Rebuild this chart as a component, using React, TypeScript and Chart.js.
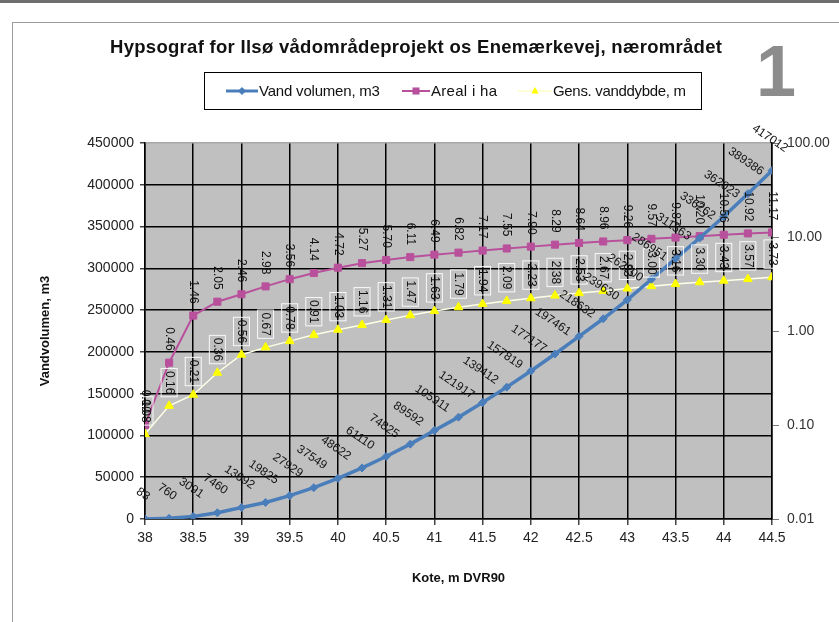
import React, { useEffect, useRef } from 'react';
import { Chart, registerables } from 'chart.js';
Chart.register(...registerables);

const kote = [38, 38.25, 38.5, 38.75, 39, 39.25, 39.5, 39.75, 40, 40.25, 40.5, 40.75, 41, 41.25, 41.5, 41.75, 42, 42.25, 42.5, 42.75, 43, 43.25, 43.5, 43.75, 44, 44.25, 44.5];
const volumen = [83, 760, 3091, 7460, 13692, 19825, 27929, 37549, 48622, 61110, 74825, 89592, 105911, 121917, 139412, 157819, 177177, 197461, 218632, 239630, 262200, 286951, 311563, 336262, 362023, 389386, 417012];
const areal = [0.10, 0.46, 1.46, 2.05, 2.46, 2.98, 3.56, 4.14, 4.72, 5.27, 5.70, 6.11, 6.49, 6.82, 7.17, 7.55, 7.90, 8.29, 8.64, 8.96, 9.26, 9.57, 9.87, 10.20, 10.56, 10.92, 11.17];
const dybde = [0.08, 0.16, 0.21, 0.36, 0.56, 0.67, 0.78, 0.91, 1.03, 1.16, 1.31, 1.47, 1.63, 1.79, 1.94, 2.09, 2.23, 2.38, 2.53, 2.67, 2.83, 3.00, 3.16, 3.30, 3.43, 3.57, 3.73];
const logTicks = [0.01, 0.1, 1, 10, 100];

const TITLE = 'Hypsograf for Ilsø vådområdeprojekt os Enemærkevej, nærområdet';
const SERIES = ['Vand volumen, m3', 'Areal i ha', 'Gens. vanddybde, m'];
const X_TITLE = 'Kote, m DVR90';
const Y_TITLE = 'Vandvolumen, m3';

const FONT = "'Liberation Sans', Arial, sans-serif";
const BLUE = '#4A7EBB';
const PINK = '#B9509C';
const YEL = '#FFFF00';

function fitText(ctx: CanvasRenderingContext2D, text: string, x: number, y: number, target: number) {
  const w = ctx.measureText(text).width;
  const anyCtx = ctx as any;
  if (target && text.length > 1) {
    anyCtx.letterSpacing = ((target - w) / (text.length - 1)).toFixed(2) + 'px';
  }
  ctx.fillText(text, x, y);
  anyCtx.letterSpacing = '0px';
}

function drawMarker(ctx: CanvasRenderingContext2D, style: string, r: number, x: number, y: number) {
  ctx.beginPath();
  if (style === 'rectRot') {
    ctx.moveTo(x, y - r);
    ctx.lineTo(x + r, y);
    ctx.lineTo(x, y + r);
    ctx.lineTo(x - r, y);
    ctx.closePath();
  } else if (style === 'rect') {
    const s = r * 0.707;
    ctx.rect(x - s, y - s, 2 * s, 2 * s);
  } else {
    ctx.moveTo(x, y - r);
    ctx.lineTo(x + r * 0.9, y + r * 0.6);
    ctx.lineTo(x - r * 0.9, y + r * 0.6);
    ctx.closePath();
  }
  ctx.fill();
}

const framePlugin = {
  id: 'frame',
  beforeDraw(chart: any) {
    const ctx = chart.ctx as CanvasRenderingContext2D;
    const a = chart.chartArea;
    ctx.save();
    ctx.fillStyle = '#fff';
    ctx.fillRect(0, 0, chart.width, chart.height);
    ctx.fillStyle = '#6e6e6e';
    ctx.fillRect(0, 0, chart.width, 3);
    ctx.strokeStyle = '#9a9a9a';
    ctx.lineWidth = 1;
    ctx.strokeRect(12.5, 22.5, chart.width, chart.height);
    ctx.fillStyle = '#C0C0C0';
    ctx.fillRect(a.left, a.top, a.right - a.left, a.bottom - a.top);
    ctx.restore();
  },
};

const labelPlugin = {
  id: 'labels',
  afterDatasetsDraw(chart: any) {
    const ctx = chart.ctx as CanvasRenderingContext2D;
    ctx.save();
    ctx.font = `12px ${FONT}`;
    ctx.fillStyle = '#111';
    ctx.textAlign = 'center';
    ctx.textBaseline = 'middle';
    // yellow (depth) labels with white boxes
    const m2 = chart.getDatasetMeta(2);
    m2.data.forEach((p: any, i: number) => {
      const t = dybde[i].toFixed(2);
      const w = ctx.measureText(t).width;
      const bh = w + 5;
      ctx.save();
      ctx.translate(p.x, p.y - 9 - bh / 2);
      ctx.rotate(Math.PI / 2);
      ctx.strokeStyle = 'rgba(255,255,255,0.9)';
      ctx.lineWidth = 1;
      ctx.strokeRect(-bh / 2, -8, bh, 16);
      ctx.fillText(t, 0, 0);
      ctx.restore();
    });
    // pink (area) labels
    const m1 = chart.getDatasetMeta(1);
    m1.data.forEach((p: any, i: number) => {
      const t = areal[i].toFixed(2);
      const w = ctx.measureText(t).width;
      ctx.save();
      ctx.translate(p.x, p.y - 12 - w / 2);
      ctx.rotate(Math.PI / 2);
      ctx.fillText(t, 0, 0);
      ctx.restore();
    });
    // blue (volume) labels
    const ang = (34 * Math.PI) / 180;
    const m0 = chart.getDatasetMeta(0);
    m0.data.forEach((p: any, i: number) => {
      const t = String(volumen[i]);
      const w = ctx.measureText(t).width;
      const bh = w * Math.sin(ang) + 12 * Math.cos(ang);
      ctx.save();
      ctx.translate(p.x - 2, p.y - 16 - bh / 2);
      ctx.rotate(ang);
      ctx.fillText(t, 0, 0);
      ctx.restore();
    });
    ctx.restore();
  },
  afterDraw(chart: any) {
    const ctx = chart.ctx as CanvasRenderingContext2D;
    const a = chart.chartArea;
    ctx.save();
    // title
    ctx.fillStyle = '#111';
    ctx.font = `bold 18.5px ${FONT}`;
    ctx.textAlign = 'left';
    ctx.textBaseline = 'alphabetic';
    fitText(ctx, TITLE, 110, 53, 612);
    // big "1"
    ctx.fillStyle = '#8c8c8c';
    ctx.font = `bold 72px ${FONT}`;
    ctx.textAlign = 'center';
    ctx.fillText('1', 776, 96);
    // legend
    ctx.fillStyle = '#fff';
    ctx.fillRect(204, 72, 497, 37);
    ctx.strokeStyle = '#000';
    ctx.lineWidth = 1;
    ctx.strokeRect(204.5, 72.5, 497, 37);
    const ly = 91;
    const items = [
      { x1: 226, x2: 258, color: BLUE, lw: 3, style: 'rectRot', r: 4, fill: BLUE, tx: 259, tw: 121 },
      { x1: 402, x2: 430, color: PINK, lw: 2, style: 'rect', r: 5, fill: PINK, tx: 431, tw: 66 },
      { x1: 518, x2: 552, color: '#FFFFC8', lw: 1.5, style: 'triangle', r: 4, fill: YEL, tx: 553, tw: 133 },
    ];
    items.forEach((it, i) => {
      ctx.strokeStyle = it.color;
      ctx.lineWidth = it.lw;
      ctx.beginPath();
      ctx.moveTo(it.x1, ly);
      ctx.lineTo(it.x2, ly);
      ctx.stroke();
      ctx.fillStyle = it.fill;
      drawMarker(ctx, it.style, it.r, (it.x1 + it.x2) / 2, ly);
      ctx.fillStyle = '#111';
      ctx.font = `15px ${FONT}`;
      ctx.textAlign = 'left';
      ctx.textBaseline = 'middle';
      fitText(ctx, SERIES[i], it.tx, ly + 1, it.tw);
    });
    // axis titles
    ctx.fillStyle = '#111';
    ctx.font = `bold 13px ${FONT}`;
    ctx.textAlign = 'center';
    ctx.textBaseline = 'middle';
    ctx.fillText(X_TITLE, (a.left + a.right) / 2, 578);
    ctx.save();
    ctx.translate(45, (a.top + a.bottom) / 2);
    ctx.rotate(-Math.PI / 2);
    ctx.fillText(Y_TITLE, 0, 0);
    ctx.restore();
    ctx.restore();
  },
};

export default function App() {
  const ref = useRef<HTMLCanvasElement | null>(null);
  useEffect(() => {
    document.body.style.margin = '0';
    const canvas = ref.current;
    if (!canvas) return;
    const tickFont = { family: FONT, size: 14 };
    const chart = new Chart(canvas, {
      type: 'line',
      data: {
        datasets: [
          {
            label: SERIES[0],
            data: kote.map((x, i) => ({ x, y: volumen[i] })),
            yAxisID: 'y',
            borderColor: BLUE,
            backgroundColor: BLUE,
            borderWidth: 3.5,
            pointStyle: 'rectRot',
            pointRadius: 4,
            pointBorderWidth: 1,
            tension: 0,
          },
          {
            label: SERIES[1],
            data: kote.map((x, i) => ({ x, y: areal[i] })),
            yAxisID: 'y2',
            borderColor: PINK,
            backgroundColor: PINK,
            borderWidth: 2,
            pointStyle: 'rect',
            pointRadius: 5,
            pointBorderWidth: 1,
            tension: 0,
          },
          {
            label: SERIES[2],
            data: kote.map((x, i) => ({ x, y: dybde[i] })),
            yAxisID: 'y2',
            borderColor: '#FFFFE6',
            backgroundColor: YEL,
            pointBorderColor: YEL,
            borderWidth: 1.5,
            pointStyle: 'triangle',
            pointRadius: 5,
            pointBorderWidth: 1,
            tension: 0,
          },
        ],
      },
      options: {
        responsive: false,
        animation: false,
        events: [],
        layout: { padding: { top: 143, left: 0, right: 0, bottom: 0 } },
        plugins: {
          legend: { display: false },
          title: { display: false },
          tooltip: { enabled: false },
        },
        scales: {
          x: {
            type: 'linear',
            min: 38,
            max: 44.5,
            ticks: { stepSize: 0.5, color: '#222', font: tickFont, padding: 5, maxRotation: 0, callback: (v: any) => String(v) },
            grid: { color: '#000', lineWidth: 1.5, tickLength: 6, tickColor: '#444' },
            border: { color: '#000', width: 1.5 },
            afterFit: (s: any) => { s.height = 622 - 519; },
          },
          y: {
            type: 'linear',
            position: 'left',
            min: 0,
            max: 450000,
            ticks: { stepSize: 50000, color: '#222', font: tickFont, padding: 6, callback: (v: any) => String(v) },
            grid: {
              color: (c: any) => (c.tick && c.tick.value === 450000 ? '#a8a8a8' : '#000'),
              lineWidth: 1.5,
              tickLength: 5,
              tickColor: '#444',
            },
            border: { color: '#000', width: 1.5 },
            afterFit: (s: any) => { s.width = 145; },
          },
          y2: {
            type: 'logarithmic',
            position: 'right',
            min: 0.01,
            max: 100,
            afterBuildTicks: (s: any) => { s.ticks = logTicks.map((v) => ({ value: v })); },
            ticks: { color: '#333', font: tickFont, padding: 8, callback: (v: any) => Number(v).toFixed(2) },
            grid: { drawOnChartArea: false, color: '#777', tickLength: 7, lineWidth: 1 },
            border: { color: '#000', width: 1.5 },
            afterFit: (s: any) => { s.width = 839 - 772; },
          },
        },
      } as any,
      plugins: [framePlugin, labelPlugin],
    });
    return () => chart.destroy();
  }, []);
  return (
    <div style={{ width: 839, height: 622, position: 'relative', overflow: 'hidden' }}>
      <canvas ref={ref} width={839} height={622} style={{ display: 'block', width: 839, height: 622 }} />
    </div>
  );
}
